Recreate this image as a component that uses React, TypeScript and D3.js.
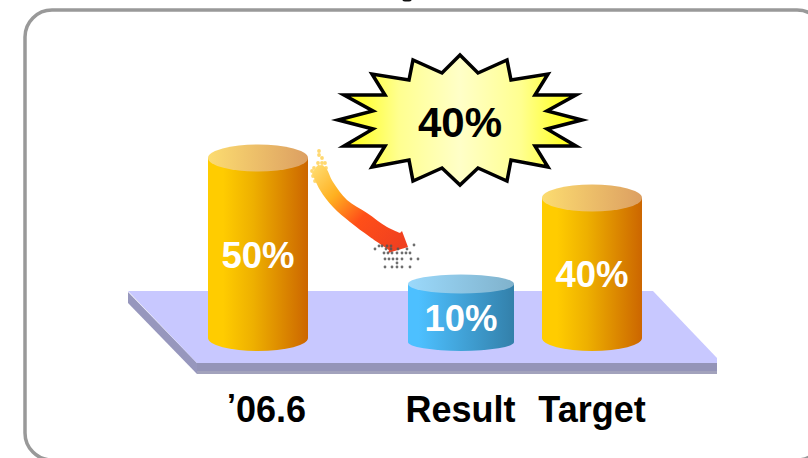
import React from "react";
import * as d3 from "d3";

// Share values shown on the cylinders
const categories = ["’06.6", "Result", "Target"];
const shares = [50, 10, 40];
const headline = "40%";

// Half of the burst outline, from top to bottom, mirrored when drawn
const burstHalf: [number, number][] = [
  [0, -65], [18, -47], [47, -60], [51, -40], [88, -46], [75, -25], [116, -25], [87, -9],
  [122, 0], [87, 9], [116, 26], [75, 26], [88, 47], [51, 40], [47, 61], [18, 48], [0, 65],
];

// Spray of dots at each end of the arrow
const tailDots: [number, number][] = [
  [319, 151], [319, 155], [322, 158], [318, 163], [322, 163], [325, 163], [314, 168], [318, 168],
  [322, 167], [326, 168], [312, 171], [316, 172], [320, 172], [324, 172], [313, 176], [317, 176],
  [321, 177], [326, 178], [315, 181], [320, 182], [324, 183], [324, 190],
];
const headDots: [number, number][] = [
  [379, 246], [382, 246], [387, 246], [391, 246], [375, 249], [386, 249], [391, 249], [398, 249],
  [407, 249], [414, 245], [384, 253], [388, 253], [392, 253], [397, 253], [402, 253], [406, 253],
  [410, 253], [385, 259], [389, 259], [393, 259], [397, 259], [402, 259], [411, 259], [418, 259],
  [397, 263], [385, 267], [392, 267], [397, 267], [402, 267], [410, 267],
];

const W = 808;
const H = 458;

const cx = d3.scaleOrdinal<string, number>().domain(categories).range([258, 461, 592]);
const topY = d3.scaleLinear().domain([10, 40, 50]).range([284, 198, 158]);
const line = d3.line();

const burst = (): string => {
  const mirrored = burstHalf.slice(1, -1).reverse().map(([x, y]) => [-x, y] as [number, number]);
  return line([...burstHalf, ...mirrored].map(([x, y]) => [x + 460, y + 120])) + "Z";
};

// Side wall plus rounded bottom of one cylinder
const wall = (x: number, rx: number, top: number, base: number, bottomY: number): string => {
  const ry = bottomY - base;
  return `M${x - rx},${top}V${base}A${rx},${ry} 0 0 0 ${x + rx},${base}V${top}Z`;
};

const smooth = d3.line().curve(d3.curveCatmullRom.alpha(0.5));
const arrowOutline = smooth([
  [318, 165], [325, 167], [333, 182], [347, 200], [367, 213], [387, 227], [400, 233],
]) + "L402,231L408,247L388,253" + smooth([
  [389, 250], [370, 237], [350, 222], [333, 207], [320, 190], [312, 173],
])!.replace("M", "L") + "Z";

export default function App() {
  return (
    <svg
      width={W}
      height={H}
      viewBox={`0 0 ${W} ${H}`}
      style={{ position: "absolute", left: 0, top: 0, background: "#fff" }}
      fontFamily="'Liberation Sans', Arial, sans-serif"
      fontWeight="bold"
    >
      <defs>
        <linearGradient id="orangeBody">
          <stop offset="0.15" stopColor="#ffcc00" />
          <stop offset="0.45" stopColor="#eeb000" />
          <stop offset="1" stopColor="#cc6600" />
        </linearGradient>
        <linearGradient id="orangeTop">
          <stop offset="0" stopColor="#fcdc70" />
          <stop offset="1" stopColor="#dc9f62" />
        </linearGradient>
        <linearGradient id="blueBody">
          <stop offset="0.1" stopColor="#4dc0ff" />
          <stop offset="1" stopColor="#3380aa" />
        </linearGradient>
        <linearGradient id="blueTop">
          <stop offset="0" stopColor="#9bd9fb" />
          <stop offset="1" stopColor="#80b2cc" />
        </linearGradient>
        <linearGradient id="burstFill">
          <stop offset="0.03" stopColor="#ffff10" />
          <stop offset="0.25" stopColor="#ffff90" />
          <stop offset="0.5" stopColor="#ffffc8" />
          <stop offset="0.75" stopColor="#ffff90" />
          <stop offset="0.97" stopColor="#ffff10" />
        </linearGradient>
        <linearGradient id="arrowFill" gradientUnits="userSpaceOnUse" x1="315" y1="165" x2="400" y2="245">
          <stop offset="0" stopColor="#ffdc70" />
          <stop offset="0.3" stopColor="#ffb020" />
          <stop offset="0.6" stopColor="#ff4f18" />
          <stop offset="1" stopColor="#f04020" />
        </linearGradient>
      </defs>

      <ellipse cx={407} cy={0} rx={4.5} ry={1.5} fill="#111" />

      <rect x={25} y={10} width={799} height={450} rx={27} fill="#fff" stroke="#999" strokeWidth={3.5} />

      {/* platform */}
      <polygon points="128,292 197,363 197,374 128,303" fill="#9797bd" />
      <polygon points="197,363 717,363 717,374 197,374" fill="#9494b8" />
      <rect x={197} y={371} width={520} height={3} fill="#a2a2bc" />
      <polygon points="128,291 653,291 717,358 717,363 197,363" fill="#c8c8ff" />

      {categories.map((c, i) => {
        const v = shares[i];
        const blue = c === "Result";
        const rx = blue ? 53 : 50;
        const ry = blue ? 9.5 : 13.5;
        const base = blue ? 342 : 338;
        const x = cx(c);
        const top = topY(v);
        return (
          <g key={c}>
            <path d={wall(x, rx, top, base, 351)} fill={`url(#${blue ? "blueBody" : "orangeBody"})`} />
            <ellipse cx={x} cy={top} rx={rx} ry={ry} fill={`url(#${blue ? "blueTop" : "orangeTop"})`} />
          </g>
        );
      })}

      {tailDots.map(([x, y], i) => <circle key={i} cx={x} cy={y} r={1.9} fill="#ffd870" />)}
      <path d={arrowOutline} fill="url(#arrowFill)" />
      {headDots.map(([x, y], i) => <circle key={i} cx={x} cy={y} r={1.4} fill="#555" opacity={0.85} />)}

      <path d={burst()} fill="url(#burstFill)" stroke="#000" strokeWidth={3.5} strokeLinejoin="miter" strokeMiterlimit={10} />
      <text x={460} y={137} fontSize={42} textAnchor="middle" fill="#000">{headline}</text>

      {categories.map((c, i) => (
        <text
          key={c}
          x={cx(c)}
          y={c === "Result" ? 331 : c === "Target" ? 287 : 268}
          fontSize={36.5}
          textAnchor="middle"
          fill="#fff"
        >
          {shares[i]}%
        </text>
      ))}

      {/* category names; the apostrophe of the date sits a little higher */}
      {categories.map((c, i) => (
        <text key={c} x={[227, 460.5, 592][i]} y={422} fontSize={36} textAnchor={i === 0 ? "start" : "middle"} fill="#000">
          {c.startsWith("’") ? (
            <>
              <tspan dy={-6} fontSize={32}>’</tspan>
              <tspan dy={6}>{c.slice(1)}</tspan>
            </>
          ) : c}
        </text>
      ))}
    </svg>
  );
}
